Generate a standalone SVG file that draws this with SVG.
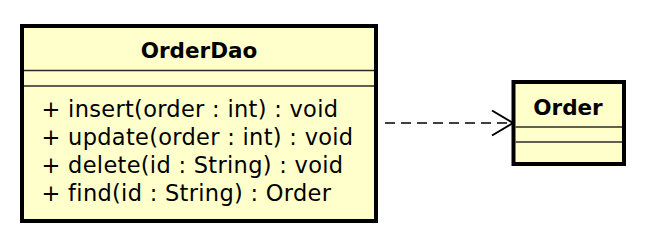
<svg xmlns="http://www.w3.org/2000/svg" width="646" height="244" viewBox="0 0 646 244">
  <defs>
    <style>
      .cls { fill: #FFFFCC; stroke: #000; stroke-width: 4; }
      .sep { stroke: #2a2a2a; stroke-width: 1.6; }
      .name { font-family: "DejaVu Sans", sans-serif; font-weight: bold; font-size: 21.5px; fill: #000; text-anchor: middle; }
      .op { font-family: "DejaVu Sans", sans-serif; font-size: 22.5px; letter-spacing: 0.3px; fill: #000; }
      .dep { fill: none; stroke: #000; stroke-width: 1.5; stroke-dasharray: 10 6; }
      .head { fill: none; stroke: #000; stroke-width: 2; }
    </style>
  </defs>
  <rect width="646" height="244" fill="#fff"/>

  <!-- class OrderDao -->
  <g id="OrderDao">
    <rect class="cls" x="22" y="26" width="354" height="195"/>
    <line class="sep" x1="24" y1="70.5" x2="374" y2="70.5"/>
    <line class="sep" x1="24" y1="86" x2="374" y2="86"/>
    <text class="name" x="199" y="57.5">OrderDao</text>
    <text class="op" x="41.5" y="116.5">+ insert(order : int) : void</text>
    <text class="op" x="41.5" y="144.8">+ update(order : int) : void</text>
    <text class="op" x="41.5" y="173.1">+ delete(id : String) : void</text>
    <text class="op" x="41.5" y="201.4">+ find(id : String) : Order</text>
  </g>

  <!-- class Order -->
  <g id="Order">
    <rect class="cls" x="513.5" y="82" width="110.5" height="82"/>
    <line class="sep" x1="515.5" y1="127" x2="622" y2="127"/>
    <line class="sep" x1="515.5" y1="142" x2="622" y2="142"/>
    <text class="name" x="568" y="115">Order</text>
  </g>

  <!-- dependency: OrderDao uses Order -->
  <g id="connectors">
    <line class="dep" x1="385" y1="123" x2="512" y2="123"/>
    <polyline class="head" points="492,110.5 513,123 492,135.5"/>
  </g>
</svg>
